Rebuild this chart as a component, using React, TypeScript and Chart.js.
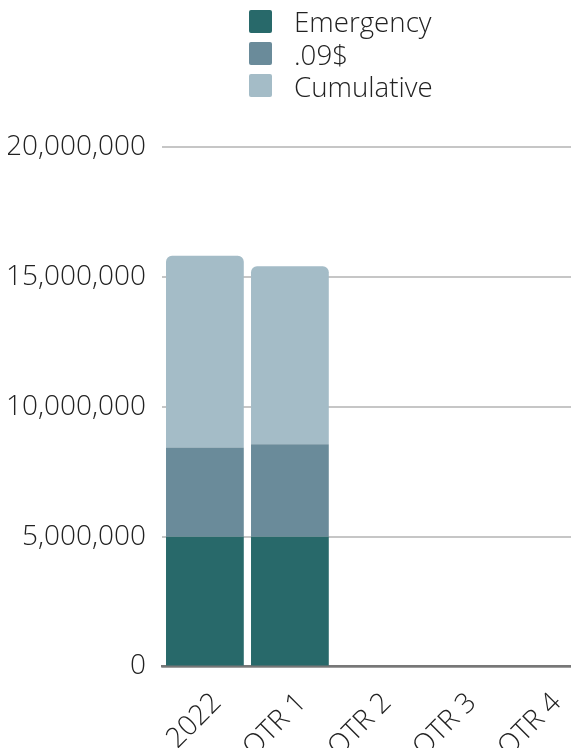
import React, { useEffect, useRef } from "react";
import { Chart, registerables } from "chart.js";

Chart.register(...registerables);

const categories = ["2022", "QTR 1", "QTR 2", "QTR 3", "QTR 4"];
const emergency = [5000000, 5000000, 0, 0, 0];
const cents09 = [3430000, 3560000, 0, 0, 0];
const cumulative = [7380000, 6850000, 0, 0, 0];
const seriesNames = ["Emergency", ".09$", "Cumulative"];
const seriesColors = ["#28696a", "#6a8b9a", "#a4bcc7"];
const yMax = 20000000;
const yStep = 5000000;

const FONT = "'Open Sans', 'Noto Sans', sans-serif";

export default function App() {
  const ref = useRef<HTMLCanvasElement | null>(null);

  useEffect(() => {
    if (!ref.current) return;
    const chart = new Chart(ref.current, {
      type: "bar",
      data: {
        labels: categories,
        datasets: [
          { label: seriesNames[0], data: emergency, backgroundColor: seriesColors[0], borderWidth: 0 },
          { label: seriesNames[1], data: cents09, backgroundColor: seriesColors[1], borderWidth: 0 },
          {
            label: seriesNames[2],
            data: cumulative,
            backgroundColor: seriesColors[2],
            borderWidth: 0,
            borderRadius: { topLeft: 6, topRight: 6, bottomLeft: 0, bottomRight: 0 },
          },
        ],
      },
      options: {
        responsive: false,
        animation: false,
        layout: { padding: { top: 139, right: 10.6, left: 0, bottom: 3 } },
        datasets: { bar: { categoryPercentage: 1, barPercentage: 0.915 } },
        plugins: { legend: { display: false }, tooltip: { enabled: false } },
        scales: {
          x: {
            stacked: true,
            grid: { display: false, drawTicks: false },
            border: { display: true, color: "#777777", width: 2.5 },
            afterFit: (s: any) => {
              s.paddingLeft = 0;
              s.paddingRight = 0;
            },
            ticks: {
              color: "#222222",
              maxRotation: 45,
              minRotation: 45,
              padding: 20,
              labelOffset: 12,
              font: { family: FONT, size: 28, weight: "300" },
            },
          },
          y: {
            stacked: true,
            min: 0,
            max: yMax,
            grid: { color: "#c6c6c6", lineWidth: 2, drawTicks: false },
            border: { display: false },
            afterFit: (s: any) => {
              s.width = 154.4;
            },
            ticks: {
              stepSize: yStep,
              color: "#222222",
              padding: 16.4,
              font: { family: FONT, size: 28, weight: "300" },
              callback: (v: any) => Number(v).toLocaleString("en-US"),
            },
          },
        },
      },
    });
    return () => chart.destroy();
  }, []);

  return (
    <div style={{ position: "relative", width: 571, height: 740, overflow: "hidden" }}>
      <canvas ref={ref} width={590} height={779} style={{ position: "absolute", left: 0, top: 0 }} />
      <div
        style={{
          position: "absolute",
          left: 241,
          top: -3,
          fontFamily: FONT,
          fontWeight: 300,
          fontSize: 27.7,
          color: "#222222",
        }}
      >
        {seriesNames.map((n, i) => (
          <div key={n} style={{ display: "flex", alignItems: "center", height: 32.4 }}>
            <span
              style={{
                display: "inline-block",
                width: 23,
                height: 23,
                borderRadius: 2,
                background: seriesColors[i],
                marginRight: 22,
                flexShrink: 0,
              }}
            />
            <span style={{ lineHeight: "32px" }}>{n}</span>
          </div>
        ))}
      </div>
    </div>
  );
}
